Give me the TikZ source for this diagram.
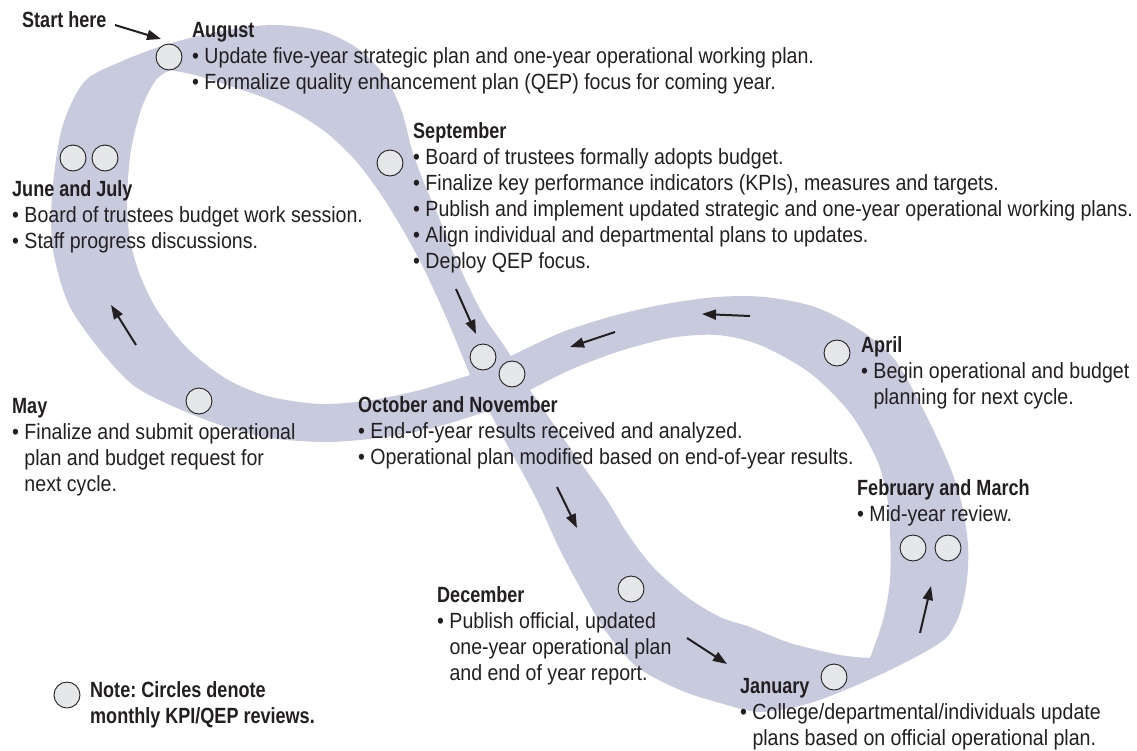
\documentclass[tikz,border=0pt]{standalone}
\usepackage{fontspec}
\usetikzlibrary{arrows.meta}
\newfontfamily\rgfont{Liberation Sans}[FakeStretch=0.89]
\newfontfamily\bdfont{Liberation Sans}[FakeStretch=0.82]
\definecolor{bandc}{RGB}{200,203,222}
\definecolor{circc}{RGB}{230,231,232}
\definecolor{txtc}{RGB}{35,31,32}
\newcommand\myhd[1]{{\bdfont\bfseries #1}}
\newcommand\mybul{•\ }
\newcommand\myind{\hphantom{•\ }}
\newcommand\myfl{\rule{0pt}{17pt}}
\begin{document}
\frenchspacing
\begin{tikzpicture}[x=1pt,y=-1pt,
  band/.style={fill=bandc, even odd rule},
  mcirc/.style={circle, draw=txtc, line width=0.9pt, fill=circc, minimum size=26pt, inner sep=0pt},
  arr/.style={draw=txtc, line width=2pt, -{Triangle[length=14pt,width=10pt]}},
  txt/.style={anchor=north west, inner sep=0pt, align=left, text=txtc, font=\rgfont\fontsize{22}{26}\selectfont\frenchspacing},
  btxt/.style={txt, font=\bdfont\bfseries\fontsize{22}{26}\selectfont\frenchspacing}]
\useasboundingbox (0,0) rectangle (1137,750);
% left loop of the band
\fill[band]
  plot[smooth] coordinates {(530,390) (507,350) (485,318) (468,285) (452,250) (438,215) (424,183) (412,150) (402,112) (386,78) (360,50) (322,31) (272,25) (216,32) (165,45) (120,62) (84,82) (62,128) (52,195) (53,250) (69,305) (100,350) (133,385) (170,405) (220,425) (270,438) (330,442) (393,436) (440,426) (482,413)} -- cycle
  plot[smooth] coordinates {(470,375) (446,317) (422,265) (400,225) (378,190) (355,160) (328,134) (298,114) (265,98) (230,86) (195,75) (170,70)}
  -- plot[smooth] coordinates {(170,70) (156,80) (142,107) (131,150) (127,200) (130,240) (140,275) (157,310) (187,348) (225,378) (267,396) (320,404) (372,400) (420,390) (470,375)} -- cycle;
% right loop of the band
\fill[band]
  plot[smooth] coordinates {(470,375) (503,437) (537,500) (560,550) (587,600) (607,633) (637,667) (680,690) (720,703) (760,712) (807,704) (850,688) (890,670) (923,653) (947,637) (960,613) (967,580) (968,545) (962,505) (950,467) (925,413) (895,360) (860,330) (815,307) (765,297) (716,297) (660,305) (609,317) (560,333) (513,355)} -- cycle
  plot[smooth] coordinates {(530,390) (568,445) (607,500) (627,533) (653,567) (687,597) (720,617) (750,627) (790,643) (840,655) (870,658)}
  -- plot[smooth] coordinates {(870,658) (883,620) (890,580) (890,530) (887,497) (877,460) (850,413) (810,373) (760,345) (717,335) (670,338) (617,352) (570,370) (530,390)} -- cycle;
% arrows
\coordinate (s1) at (115,25);  \coordinate (s2) at (161,39);
\coordinate (l1) at (136,345); \coordinate (l2) at (111,305);
\coordinate (p1) at (456,289); \coordinate (p2) at (476,334);
\coordinate (r1) at (750,316); \coordinate (r2) at (702,314);
\coordinate (q1) at (615,332); \coordinate (q2) at (570,347);
\coordinate (o1) at (557,487); \coordinate (o2) at (577,528);
\coordinate (d1) at (687,638); \coordinate (d2) at (727,664);
\coordinate (f1) at (920,633); \coordinate (f2) at (931,586);
\foreach \a/\b in {s1/s2,l1/l2,p1/p2,r1/r2,q1/q2,o1/o2,d1/d2,f1/f2}
  \draw[arr] (\a) -- (\b);
% circles
\node[mcirc] (caug) at (169,57) {};
\node[mcirc] (cjun) at (73,158) {};
\node[mcirc] (cjul) at (105,158) {};
\node[mcirc] (csep) at (390,163) {};
\node[mcirc] (coct) at (483,357) {};
\node[mcirc] (cnov) at (512,374) {};
\node[mcirc] (cmay) at (199,401) {};
\node[mcirc] (capr) at (837,353) {};
\node[mcirc] (cfeb) at (913,548) {};
\node[mcirc] (cmar) at (948,548) {};
\node[mcirc] (cdec) at (631,589) {};
\node[mcirc] (cjan) at (834,677) {};
\node[mcirc] (cnote) at (67,695) {};
% texts
\node[btxt] (tstart) at (22,10) {\myfl Start here};
\node[txt] (taug) at (192,20) {\myfl\myhd{August}\\
  \mybul Update five-year strategic plan and one-year operational working plan.\\
  \mybul Formalize quality enhancement plan (QEP) focus for coming year.};
\node[txt] (tsep) at (413,121) {\myfl\myhd{September}\\
  \mybul Board of trustees formally adopts budget.\\
  \mybul Finalize key performance indicators (KPIs), measures and targets.\\
  \mybul Publish and implement updated strategic and one-year operational working plans.\\
  \mybul Align individual and departmental plans to updates.\\
  \mybul Deploy QEP focus.};
\node[txt] (tjun) at (12,179) {\myfl\myhd{June and July}\\
  \mybul Board of trustees budget work session.\\
  \mybul Staff progress discussions.};
\node[txt] (tmay) at (12,396) {\myfl\myhd{May}\\
  \mybul Finalize and submit operational\\
  \myind plan and budget request for\\
  \myind next cycle.};
\node[txt] (toct) at (358,395) {\myfl\myhd{October and November}\\
  \mybul End-of-year results received and analyzed.\\
  \mybul Operational plan modified based on end-of-year results.};
\node[txt] (tapr) at (861,335) {\myfl\myhd{April}\\
  \mybul Begin operational and budget\\
  \myind planning for next cycle.};
\node[txt] (tfeb) at (857,478) {\myfl\myhd{February and March}\\
  \mybul Mid-year review.};
\node[txt] (tdec) at (437,585) {\myfl\myhd{December}\\
  \mybul Publish official, updated\\
  \myind one-year operational plan\\
  \myind and end of year report.};
\node[txt] (tjan) at (740,676) {\myfl\myhd{January}\\
  \mybul College/departmental/individuals update\\
  \myind plans based on official operational plan.};
\node[btxt] (tnote) at (90,680) {\myfl Note: Circles denote\\
  monthly KPI/QEP reviews.};
\end{tikzpicture}
\end{document}
